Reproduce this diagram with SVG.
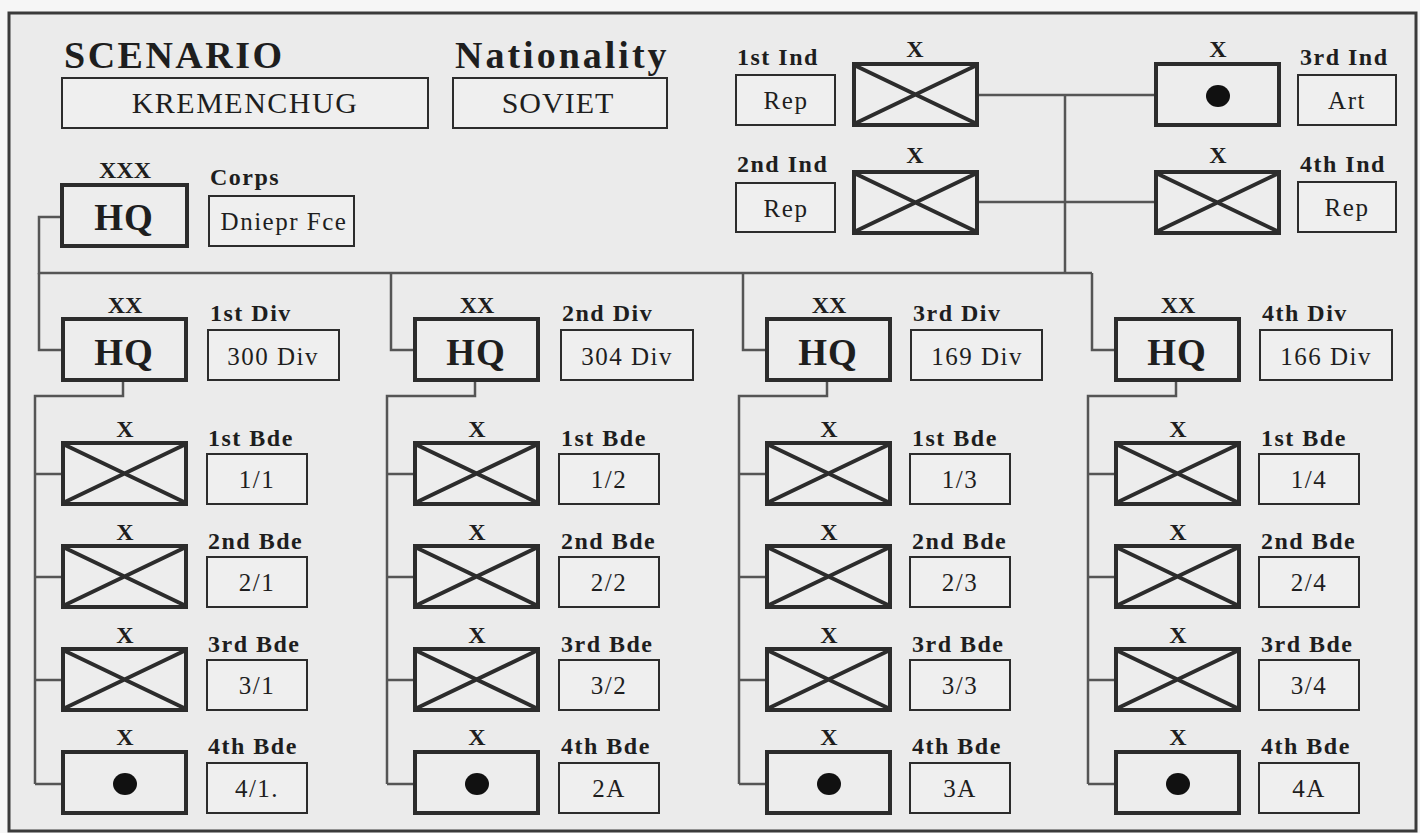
<svg xmlns="http://www.w3.org/2000/svg" width="1420" height="833" viewBox="0 0 1420 833">
<style>
text{font-family:"Liberation Serif","Times New Roman",serif;fill:#1e1e1e}
.title{font-size:38px;font-weight:bold}
.lab{font-size:24px;font-weight:bold;letter-spacing:1.5px}
.nm{font-size:25px;letter-spacing:1.5px;text-anchor:middle}
.ech{font-size:24px;font-weight:bold;text-anchor:middle}
.hq{font-size:37px;font-weight:bold;text-anchor:middle;letter-spacing:1px}
.unit{fill:#ededed;stroke:#2c2c2c;stroke-width:4}
.box{fill:#efefef;stroke:#2c2c2c;stroke-width:2}
.x{stroke:#2c2c2c;stroke-width:4}
.con{fill:none;stroke:#555;stroke-width:2.5}
</style>
<defs>
<g id="inf"><rect class="unit" x="0" y="0" width="123" height="61"/><path class="x" d="M2,2L121,59M121,2L2,59"/></g>
<g id="art"><rect class="unit" x="0" y="0" width="123" height="61"/><ellipse cx="62" cy="32" rx="12" ry="11" fill="#111"/></g>
</defs>
<rect x="0" y="0" width="1420" height="833" fill="#f6f6f6"/>
<rect x="9" y="13" width="1407" height="818" fill="#ebebeb" stroke="#3a3a3a" stroke-width="3"/>

<g id="connectors">
<path class="con" d="M62,217H39V273H1092"/>
<path class="con" d="M977,95H1156M977,202H1156M1065,95V273"/>
<path class="con" d="M39,273V350H63M391,273V350H415M743,273V350H767M1092,273V350H1116"/>
<path class="con" d="M123,380V396H35V784M35,474H63M35,577H63M35,680H63M35,784H63"/>
<path class="con" d="M475,380V396H387V784M387,474H415M387,577H415M387,680H415M387,784H415"/>
<path class="con" d="M827,380V396H739V784M739,474H767M739,577H767M739,680H767M739,784H767"/>
<path class="con" d="M1176,380V396H1088V784M1088,474H1116M1088,577H1116M1088,680H1116M1088,784H1116"/>
</g>

<g id="scenario">
<text class="title" x="64" y="68" style="letter-spacing:2.5px">SCENARIO</text>
<rect class="box" x="62" y="78" width="366" height="50"/>
<text class="nm" x="245" y="113" style="font-size:30px">KREMENCHUG</text>
</g>
<g id="nationality">
<text class="title" x="455" y="68" style="letter-spacing:3px">Nationality</text>
<rect class="box" x="453" y="78" width="214" height="50"/>
<text class="nm" x="558" y="113" style="font-size:30px;letter-spacing:1px">SOVIET</text>
</g>

<g id="corps">
<text class="ech" x="125" y="178">XXX</text>
<rect class="unit" x="62" y="185" width="125" height="61"/>
<text class="hq" x="124" y="230">HQ</text>
<text class="lab" x="210" y="185">Corps</text>
<rect class="box" x="209" y="196" width="145" height="50"/>
<text class="nm" x="284" y="230">Dniepr Fce</text>
</g>

<g id="ind1">
<text class="lab" x="737" y="65">1st Ind</text>
<rect class="box" x="736" y="75" width="99" height="50"/>
<text class="nm" x="786" y="109">Rep</text>
<text class="ech" x="915" y="57">X</text>
<use href="#inf" transform="translate(854,64)"/>
</g>
<g id="ind2">
<text class="lab" x="737" y="172">2nd Ind</text>
<rect class="box" x="736" y="183" width="99" height="49"/>
<text class="nm" x="786" y="217">Rep</text>
<text class="ech" x="915" y="163">X</text>
<use href="#inf" transform="translate(854,172)"/>
</g>
<g id="ind3">
<text class="ech" x="1218" y="57">X</text>
<use href="#art" transform="translate(1156,64)"/>
<text class="lab" x="1300" y="65">3rd Ind</text>
<rect class="box" x="1298" y="75" width="98" height="50"/>
<text class="nm" x="1347" y="109">Art</text>
</g>
<g id="ind4">
<text class="ech" x="1218" y="163">X</text>
<use href="#inf" transform="translate(1156,172)"/>
<text class="lab" x="1300" y="172">4th Ind</text>
<rect class="box" x="1298" y="182" width="98" height="50"/>
<text class="nm" x="1347" y="216">Rep</text>
</g>

<!-- Division 1 -->
<g id="div1">
<text class="ech" x="125" y="313">XX</text>
<rect class="unit" x="63" y="319" width="123" height="61"/>
<text class="hq" x="124" y="365">HQ</text>
<text class="lab" x="210" y="321">1st Div</text>
<rect class="box" x="208" y="330" width="131" height="50"/>
<text class="nm" x="273" y="365">300 Div</text>
</g>
<g id="b1_1"><text class="ech" x="125" y="437">X</text><use href="#inf" transform="translate(63,443)"/><text class="lab" x="208" y="446">1st Bde</text><rect class="box" x="207" y="454" width="100" height="50"/><text class="nm" x="257" y="488">1/1</text></g>
<g id="b1_2"><text class="ech" x="125" y="540">X</text><use href="#inf" transform="translate(63,546)"/><text class="lab" x="208" y="549">2nd Bde</text><rect class="box" x="207" y="557" width="100" height="50"/><text class="nm" x="257" y="591">2/1</text></g>
<g id="b1_3"><text class="ech" x="125" y="643">X</text><use href="#inf" transform="translate(63,649)"/><text class="lab" x="208" y="652">3rd Bde</text><rect class="box" x="207" y="660" width="100" height="50"/><text class="nm" x="257" y="694">3/1</text></g>
<g id="b1_4"><text class="ech" x="125" y="745">X</text><use href="#art" transform="translate(63,752)"/><text class="lab" x="208" y="754">4th Bde</text><rect class="box" x="207" y="763" width="100" height="50"/><text class="nm" x="257" y="797">4/1.</text></g>

<!-- Division 2 -->
<g id="div2">
<text class="ech" x="477" y="313">XX</text>
<rect class="unit" x="415" y="319" width="123" height="61"/>
<text class="hq" x="476" y="365">HQ</text>
<text class="lab" x="562" y="321">2nd Div</text>
<rect class="box" x="561" y="330" width="132" height="50"/>
<text class="nm" x="627" y="365">304 Div</text>
</g>
<g id="b2_1"><text class="ech" x="477" y="437">X</text><use href="#inf" transform="translate(415,443)"/><text class="lab" x="561" y="446">1st Bde</text><rect class="box" x="559" y="454" width="100" height="50"/><text class="nm" x="609" y="488">1/2</text></g>
<g id="b2_2"><text class="ech" x="477" y="540">X</text><use href="#inf" transform="translate(415,546)"/><text class="lab" x="561" y="549">2nd Bde</text><rect class="box" x="559" y="557" width="100" height="50"/><text class="nm" x="609" y="591">2/2</text></g>
<g id="b2_3"><text class="ech" x="477" y="643">X</text><use href="#inf" transform="translate(415,649)"/><text class="lab" x="561" y="652">3rd Bde</text><rect class="box" x="559" y="660" width="100" height="50"/><text class="nm" x="609" y="694">3/2</text></g>
<g id="b2_4"><text class="ech" x="477" y="745">X</text><use href="#art" transform="translate(415,752)"/><text class="lab" x="561" y="754">4th Bde</text><rect class="box" x="559" y="763" width="100" height="50"/><text class="nm" x="609" y="797">2A</text></g>

<!-- Division 3 -->
<g id="div3">
<text class="ech" x="829" y="313">XX</text>
<rect class="unit" x="767" y="319" width="123" height="61"/>
<text class="hq" x="828" y="365">HQ</text>
<text class="lab" x="913" y="321">3rd Div</text>
<rect class="box" x="911" y="330" width="131" height="50"/>
<text class="nm" x="977" y="365">169 Div</text>
</g>
<g id="b3_1"><text class="ech" x="829" y="437">X</text><use href="#inf" transform="translate(767,443)"/><text class="lab" x="912" y="446">1st Bde</text><rect class="box" x="910" y="454" width="100" height="50"/><text class="nm" x="960" y="488">1/3</text></g>
<g id="b3_2"><text class="ech" x="829" y="540">X</text><use href="#inf" transform="translate(767,546)"/><text class="lab" x="912" y="549">2nd Bde</text><rect class="box" x="910" y="557" width="100" height="50"/><text class="nm" x="960" y="591">2/3</text></g>
<g id="b3_3"><text class="ech" x="829" y="643">X</text><use href="#inf" transform="translate(767,649)"/><text class="lab" x="912" y="652">3rd Bde</text><rect class="box" x="910" y="660" width="100" height="50"/><text class="nm" x="960" y="694">3/3</text></g>
<g id="b3_4"><text class="ech" x="829" y="745">X</text><use href="#art" transform="translate(767,752)"/><text class="lab" x="912" y="754">4th Bde</text><rect class="box" x="910" y="763" width="100" height="50"/><text class="nm" x="960" y="797">3A</text></g>

<!-- Division 4 -->
<g id="div4">
<text class="ech" x="1178" y="313">XX</text>
<rect class="unit" x="1116" y="319" width="123" height="61"/>
<text class="hq" x="1177" y="365">HQ</text>
<text class="lab" x="1262" y="321">4th Div</text>
<rect class="box" x="1260" y="330" width="132" height="50"/>
<text class="nm" x="1326" y="365">166 Div</text>
</g>
<g id="b4_1"><text class="ech" x="1178" y="437">X</text><use href="#inf" transform="translate(1116,443)"/><text class="lab" x="1261" y="446">1st Bde</text><rect class="box" x="1259" y="454" width="100" height="50"/><text class="nm" x="1309" y="488">1/4</text></g>
<g id="b4_2"><text class="ech" x="1178" y="540">X</text><use href="#inf" transform="translate(1116,546)"/><text class="lab" x="1261" y="549">2nd Bde</text><rect class="box" x="1259" y="557" width="100" height="50"/><text class="nm" x="1309" y="591">2/4</text></g>
<g id="b4_3"><text class="ech" x="1178" y="643">X</text><use href="#inf" transform="translate(1116,649)"/><text class="lab" x="1261" y="652">3rd Bde</text><rect class="box" x="1259" y="660" width="100" height="50"/><text class="nm" x="1309" y="694">3/4</text></g>
<g id="b4_4"><text class="ech" x="1178" y="745">X</text><use href="#art" transform="translate(1116,752)"/><text class="lab" x="1261" y="754">4th Bde</text><rect class="box" x="1259" y="763" width="100" height="50"/><text class="nm" x="1309" y="797">4A</text></g>
</svg>
